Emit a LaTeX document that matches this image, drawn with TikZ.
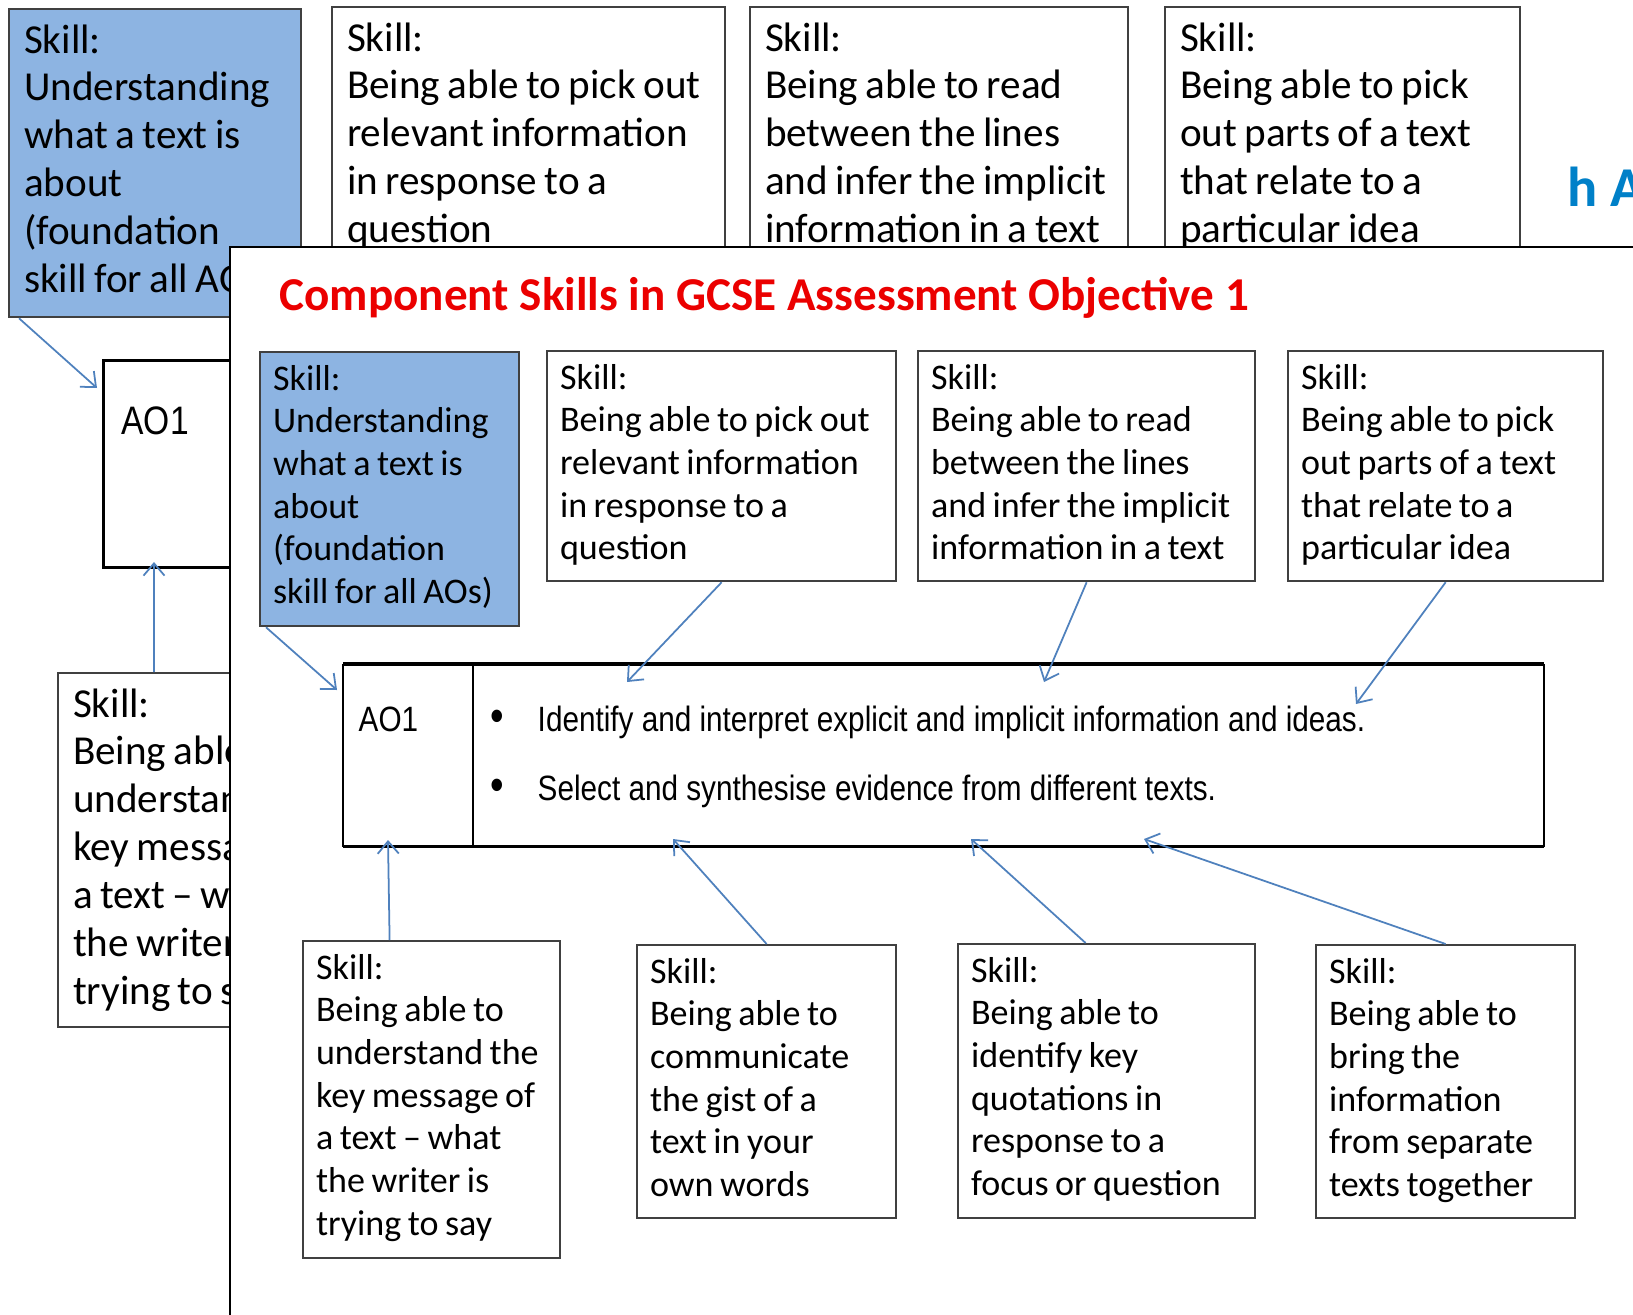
\documentclass[tikz,border=0pt]{standalone}
\usepackage{fontspec}
\setmainfont{Carlito}[WordSpace={0.8,0,0}]
\newfontfamily\titlefont{Carlito}
\newfontfamily\arialn[FakeStretch=0.845]{Liberation Sans}
\usetikzlibrary{arrows.meta,calc}
\hyphenpenalty=10000

\definecolor{skillblue}{RGB}{141,180,226}
\definecolor{linkblue}{RGB}{79,129,189}
\definecolor{headblue}{RGB}{0,128,200}
\definecolor{titlered}{RGB}{235,0,0}

\tikzset{
  skill/.style={draw=black!75, line width=0.6pt, fill=white, anchor=north west,
    align=left, inner xsep=0.13cm, inner ysep=0.1cm, text height=0.28cm,
    font=\fontsize{10.25}{12.15}\selectfont, execute at begin node={\spaceskip=0pt\relax}},
  oldskill/.style={skill, inner xsep=0.15cm, inner ysep=0.12cm, text height=0.32cm,
    font=\fontsize{11.7}{13.6}\selectfont},
  cell/.style={anchor=north west, align=left, inner xsep=0.15cm, inner ysep=0.4cm,
    text height=0.27cm, font=\arialn\fontsize{10}{19.6}\selectfont,
    execute at begin node={\spaceskip=0pt\relax}},
  link/.style={->, draw=linkblue, line width=0.5pt},
}

\begin{document}
\begin{tikzpicture}[x=0.01cm, y=-0.01cm, >={Straight Barb[length=3.5pt,width=6pt]}]
  \useasboundingbox (0,0) rectangle (1633,1315);
  \clip (0,0) rectangle (1633,1315);

  % the older slide, behind
  \node[oldskill, fill=skillblue, text width=2.62cm, text depth=2.52cm] (oldfound) at (8,8)
    {Skill:\\Understanding\\what a text is\\about\\(foundation\\skill for all AOs)};
  \node[oldskill, text width=3.63cm, text depth=2.4cm] (oldpick) at (331,6)
    {Skill:\\Being able to pick out\\relevant information\\in response to a\\question};
  \node[oldskill, text width=3.48cm, text depth=2.4cm] (oldread) at (749,6)
    {Skill:\\Being able to read\\between the lines\\and infer the implicit\\information in a text};
  \node[oldskill, text width=3.25cm, text depth=2.4cm] (oldparts) at (1164,6)
    {Skill:\\Being able to pick\\out parts of a text\\that relate to a\\particular idea};
  \node[anchor=base west, inner sep=0, text=headblue, font=\titlefont\bfseries\fontsize{16}{19}\selectfont]
    (oldhead) at (1567,206) {h A};

  \node[cell, draw, line width=0.9pt, inner xsep=0.18cm, inner ysep=0.44cm, text height=0.3cm,
    text width=2.64cm, text depth=0.89cm, font=\arialn\fontsize{11.3}{13}\selectfont]
    (oldao) at (102,359) {AO1};
  \node[oldskill, text width=3.2cm, text depth=2.98cm] (oldmsg) at (57,672)
    {Skill:\\Being able to\\understand the\\key message of\\a text -- what\\the writer is\\trying to say};

  \coordinate (oldtipA) at (97,388);
  \coordinate (oldtipB) at (154,562);
  \draw[link] ([xshift=0.11cm]oldfound.south west) -- (oldtipA);
  \draw[link] ([xshift=0.97cm]oldmsg.north west) -- (oldtipB);

  % the newer slide, in front
  \fill[white] (230,247) rectangle (1650,1330);
  \draw[line width=0.7pt] (230,1330) -- (230,247) -- (1650,247);

  \node[anchor=base west, inner sep=0, text=titlered, font=\titlefont\bfseries\fontsize{13.4}{16}\selectfont]
    (title) at (279,310) {Component Skills in GCSE Assessment Objective 1};

  \node[skill, fill=skillblue, text width=2.33cm, text depth=2.26cm] (found) at (259,351)
    {Skill:\\Understanding\\what a text is\\about\\(foundation\\skill for all AOs)};
  \node[skill, text width=3.23cm, text depth=1.82cm] (pick) at (546,350)
    {Skill:\\Being able to pick out\\relevant information\\in response to a\\question};
  \node[skill, text width=3.11cm, text depth=1.82cm] (read) at (917,350)
    {Skill:\\Being able to read\\between the lines\\and infer the implicit\\information in a text};
  \node[skill, text width=2.89cm, text depth=1.82cm] (parts) at (1287,350)
    {Skill:\\Being able to pick\\out parts of a text\\that relate to a\\particular idea};

  \node[cell, text width=1.0cm, text depth=0.74cm] (ao1) at (343,664) {AO1};
  \node[cell, inner xsep=0.17cm, text width=10.35cm, text depth=0.74cm] (aims) at (473,664)
    {\makebox[0.47cm][l]{\fontsize{13}{13}\selectfont\textbullet}Identify and interpret explicit and implicit information and ideas.\\
     \makebox[0.47cm][l]{\fontsize{13}{13}\selectfont\textbullet}Select and synthesise evidence from different texts.};
  \draw[line width=1pt] (ao1.north west) -- (aims.north east) (ao1.south west) -- (aims.south east);
  \draw[line width=0.7pt] (ao1.north west) -- (ao1.south west) (aims.north west) -- (aims.south west)
    (aims.north east) -- (aims.south east);

  \node[skill, text width=2.31cm, text depth=2.69cm] (message) at (302,940)
    {Skill:\\Being able to\\understand the\\key message of\\a text -- what\\the writer is\\trying to say};
  \node[skill, text width=2.33cm, text depth=2.25cm] (gist) at (636,944)
    {Skill:\\Being able to\\communicate\\the gist of a\\text in your\\own words};
  \node[skill, text width=2.71cm, text depth=2.26cm] (quotes) at (957,943)
    {Skill:\\Being able to\\identify key\\quotations in\\response to a\\focus or question};
  \node[skill, text width=2.33cm, text depth=2.25cm] (bring) at (1315,944)
    {Skill:\\Being able to\\bring the\\information\\from separate\\texts together};

  \coordinate (tipA) at (337,690);
  \coordinate (tipB) at (627,682);
  \coordinate (tipC) at (1044,682);
  \coordinate (tipD) at (1356,704);
  \coordinate (tipE) at (388,840);
  \coordinate (tipF) at (673,839);
  \coordinate (tipG) at (971,839);
  \coordinate (tipH) at (1144,839);
  \draw[link] ([xshift=0.07cm]found.south west) -- (tipA);
  \draw[link] (pick.south) -- (tipB);
  \draw[link] (read.south) -- (tipC);
  \draw[link] (parts.south) -- (tipD);
  \draw[link] ([xshift=-0.42cm]message.north) -- (tipE);
  \draw[link] (gist.north) -- (tipF);
  \draw[link] ([xshift=-0.21cm]quotes.north) -- (tipG);
  \draw[link] (bring.north) -- (tipH);
\end{tikzpicture}
\end{document}
